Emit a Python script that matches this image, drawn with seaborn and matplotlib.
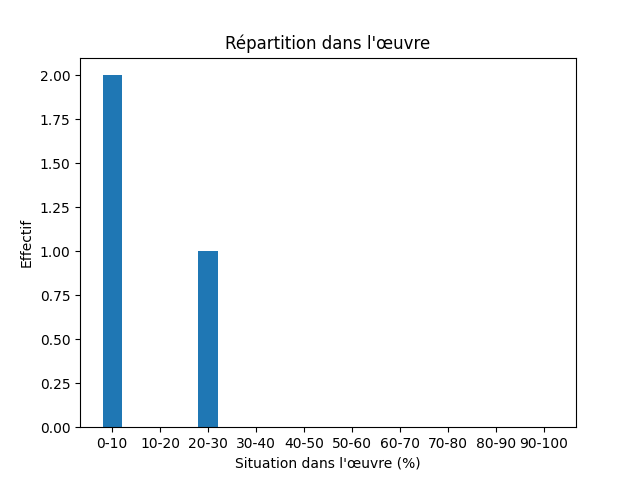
import matplotlib
matplotlib.use("Agg")
import matplotlib.pyplot as plt
import seaborn as sns
import pandas as pd

categories = ["0-10", "10-20", "20-30", "30-40", "40-50", "50-60", "60-70", "70-80", "80-90", "90-100"]
counts = [2, 0, 1, 0, 0, 0, 0, 0, 0, 0]

df = pd.DataFrame({"cat": categories, "n": counts})

fig, ax = plt.subplots(figsize=(6.4, 4.8), dpi=100)
sns.barplot(data=df, x="cat", y="n", order=categories, color="#1f77b4",
            saturation=1, width=0.4, ax=ax, errorbar=None)
ax.set_xlim(-0.67, 9.67)
ax.set_ylim(0, 2.1)
ax.set_title("Répartition dans l'œuvre")
ax.set_xlabel("Situation dans l'œuvre (%)")
ax.set_ylabel("Effectif")
fig.savefig("out.png", dpi=100)
